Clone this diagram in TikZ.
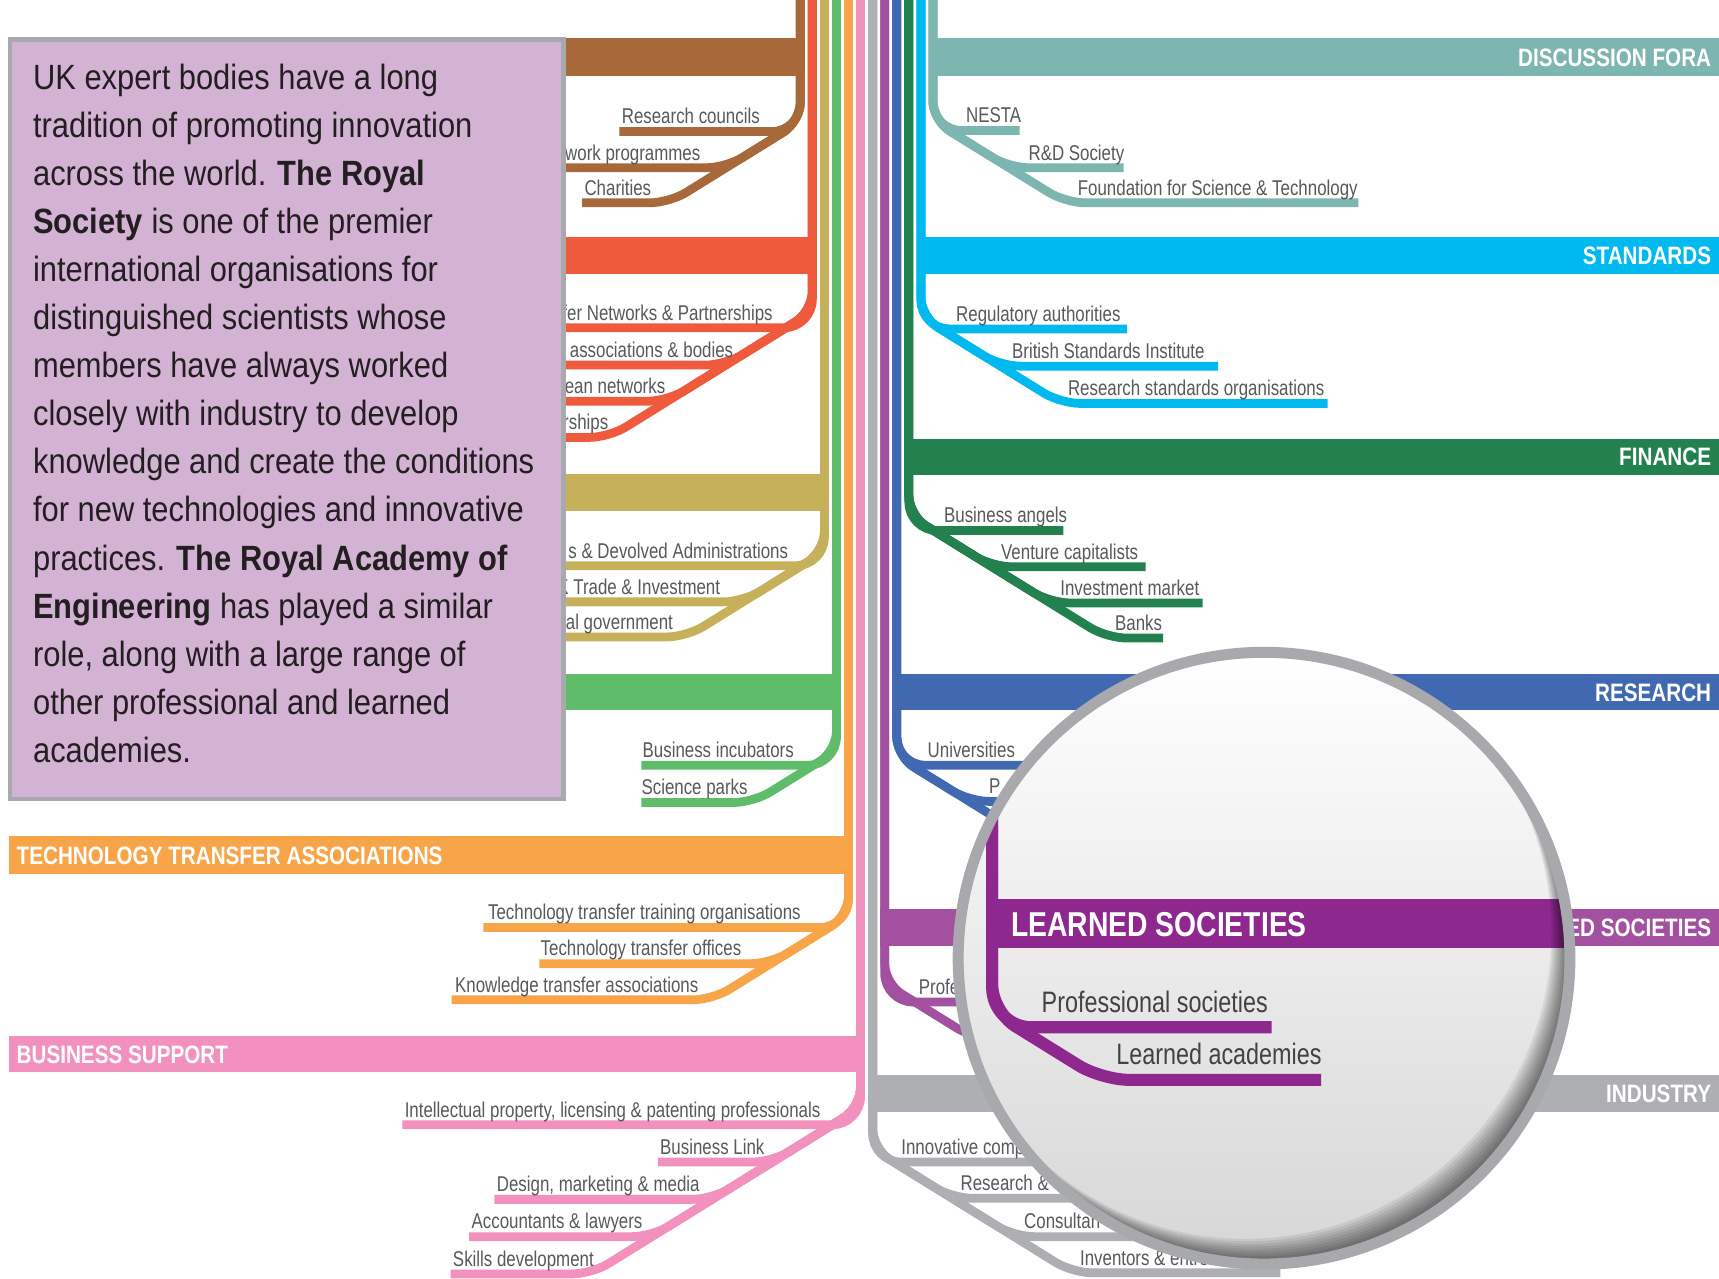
\documentclass[tikz,border=0pt]{standalone}
\usepackage{fontspec}
\setmainfont{Liberation Sans}
\newfontfamily\labfont{Liberation Sans}[FakeStretch=0.79]
\newfontfamily\boxfont{Liberation Sans}[FakeStretch=0.88]
\newfontfamily\headfont{Liberation Sans}[FakeStretch=0.82]

\definecolor{cBrown}{HTML}{A8693A}
\definecolor{cRed}{HTML}{EF5A3D}
\definecolor{cOlive}{HTML}{C7B05A}
\definecolor{cGreen}{HTML}{5EBC6A}
\definecolor{cOrange}{HTML}{F8A54A}
\definecolor{cPink}{HTML}{F291BD}
\definecolor{cGray}{HTML}{ADAFB2}
\definecolor{cPurple}{HTML}{A2509F}
\definecolor{cDeepPurple}{HTML}{8E288E}
\definecolor{cBlue}{HTML}{4069B2}
\definecolor{cDkGreen}{HTML}{23804F}
\definecolor{cCyan}{HTML}{00B9EE}
\definecolor{cTeal}{HTML}{7DB5B1}
\definecolor{boxFill}{HTML}{D3B3D4}
\definecolor{rimGray}{HTML}{A7A9AC}
\definecolor{labGray}{HTML}{58595B}
\definecolor{inkDark}{HTML}{231F20}

\tikzset{
  trunk/.style={line width=8pt},
  bigtrunk/.style={line width=11pt, cDeepPurple},
  lab/.style={font=\labfont\fontsize{19.5}{22}\selectfont, text=labGray, inner sep=0pt,
    anchor=west, text height=14pt, text depth=4pt, yshift=-2pt},
  biglab/.style={font=\labfont\fontsize{27}{30}\selectfont, text=inkDark!85, inner sep=0pt,
    anchor=west, text height=19.5pt, text depth=5.6pt},
  bandlab/.style={font=\headfont\bfseries\fontsize{23}{24}\selectfont, text=white,
    inner sep=0pt, text height=16.5pt, text depth=0pt},
  blurb/.style={anchor=north west, inner sep=0pt, align=left,
    font=\boxfont\fontsize{32}{43.86}\selectfont, text=inkDark},
}

\begin{document}
\begin{tikzpicture}[x=1pt, y=-1pt]
\useasboundingbox (0,0) rectangle (1568,1166);
\fill[white] (0,0) rectangle (1568,1166);

% right-hand lines
% discussion fora
\fill[cTeal] (847,35) rectangle (1568,69);
\node[bandlab, anchor=east] (fora) at (1561,52) {DISCUSSION FORA};
\draw[trunk, cTeal, rounded corners=26] (851,0) -- (851,119) -- (930,119);
\foreach \y/\e in {153/1025, 185/1239}
  \draw[trunk, cTeal, rounded corners=18] (851,0) -- (851,110) -- ({851+(\y-110)/0.62},\y) -- (\e,\y);
\node[lab] (nesta) at (881,105) {NESTA};
\node[lab] (rdsoc) at (938,139) {R\&D Society};
\node[lab] (fst) at (983,171) {Foundation for Science \& Technology};

% standards
\fill[cCyan] (836,216) rectangle (1568,250);
\node[bandlab, anchor=east] (stand) at (1561,233) {STANDARDS};
\draw[trunk, cCyan, rounded corners=26] (840,0) -- (840,300) -- (1028,300);
\foreach \y/\e in {334/1111, 368/1211}
  \draw[trunk, cCyan, rounded corners=18] (840,0) -- (840,289) -- ({840+(\y-289)/0.62},\y) -- (\e,\y);
\node[lab] (regauth) at (872,286) {Regulatory authorities};
\node[lab] (bsi) at (923,320) {British Standards Institute};
\node[lab] (rso) at (974,354) {Research standards organisations};

% finance
\fill[cDkGreen] (825,400) rectangle (1568,433);
\node[bandlab, anchor=east] (fin) at (1561,416.5) {FINANCE};
\draw[trunk, cDkGreen, rounded corners=26] (829,0) -- (829,484) -- (970,484);
\foreach \y/\e in {517/1045, 550/1097, 582/1061}
  \draw[trunk, cDkGreen, rounded corners=18] (829,0) -- (829,470) -- ({829+(\y-470)/0.62},\y) -- (\e,\y);
\node[lab] (angels) at (861,470) {Business angels};
\node[lab] (venture) at (913,503) {Venture capitalists};
\node[lab] (invest) at (967,536) {Investment market};
\node[lab] (banks) at (1017,568) {Banks};

% research
\fill[cBlue] (814,615) rectangle (1568,648);
\node[bandlab, anchor=east] (res) at (1561,631.5) {RESEARCH};
\draw[trunk, cBlue, rounded corners=26] (818,0) -- (818,698) -- (1000,698);
\foreach \y/\e in {731/1000, 764/1000}
  \draw[trunk, cBlue, rounded corners=18] (818,0) -- (818,690) -- ({818+(\y-690)/0.62},\y) -- (\e,\y);
\node[lab] (unis) at (846,684) {Universities};
\node[lab] (pub) at (902,717) {P};

% learned societies
\fill[cPurple] (803,829) rectangle (1568,863);
\node[bandlab, anchor=east] (learned) at (1561,846) {LEARNED SOCIETIES};
\draw[trunk, cPurple, rounded corners=26] (807,0) -- (807,914) -- (1000,914);
\draw[trunk, cPurple, rounded corners=18] (807,0) -- (807,897) -- ({807+50/0.62},947) -- (1000,947);
\node[lab] (prof) at (838,900) {Profe};

% industry
\fill[cGray] (792,981) rectangle (1568,1014);
\node[bandlab, anchor=east] (ind) at (1561,997.5) {INDUSTRY};
\draw[trunk, cGray, rounded corners=26] (796,0) -- (796,1060) -- (1100,1060);
\foreach \y/\e in {1093/1100, 1128/1100, 1161/1168}
  \draw[trunk, cGray, rounded corners=18] (796,0) -- (796,1048) -- ({796+(\y-1048)/0.62},\y) -- (\e,\y);
\node[lab] (innov) at (822,1046) {Innovative comp};
\node[lab] (rnd) at (876,1079) {Research \&};
\node[lab] (consult) at (934,1114) {Consultan};
\node[lab] (invent) at (985,1147) {Inventors \& entre};

% left-hand lines
% funders
\fill[cBrown] (8,35) rectangle (734,69);
\draw[trunk, cBrown, rounded corners=26] (730,0) -- (730,120) -- (565,120);
\foreach \y/\e in {153/500, 185/531}
  \draw[trunk, cBrown, rounded corners=18] (730,0) -- (730,111) -- ({730-(\y-111)/0.62},\y) -- (\e,\y);
\node[lab] (rc) at (567,106) {Research councils};
\node[lab, anchor=east] (fp) at (639,139) {work programmes};
\node[lab] (char) at (533,171) {Charities};

% networks
\fill[cRed] (8,216) rectangle (745,250);
\draw[trunk, cRed, rounded corners=26] (741,0) -- (741,299) -- (500,299);
\foreach \y/\e in {333/500, 366/500, 399/500}
  \draw[trunk, cRed, rounded corners=18] (741,0) -- (741,284) -- ({741-(\y-284)/0.62},\y) -- (\e,\y);
\node[lab, anchor=east] (ktn) at (705,285) {fer Networks \& Partnerships};
\node[lab, anchor=east] (trade) at (669,319) {associations \& bodies};
\node[lab, anchor=east] (euro) at (607,352) {ean networks};
\node[lab, anchor=east] (ktp) at (555,385) {rships};

% government
\fill[cOlive] (8,432) rectangle (756,466);
\draw[trunk, cOlive, rounded corners=26] (752,0) -- (752,516) -- (500,516);
\foreach \y/\e in {549/500, 581/500}
  \draw[trunk, cOlive, rounded corners=18] (752,0) -- (752,503) -- ({752-(\y-503)/0.62},\y) -- (\e,\y);
\node[lab, anchor=east] (rda) at (719,502) {s \& Devolved Administrations};
\node[lab, anchor=east] (ukti) at (657,535) {K Trade \& Investment};
\node[lab, anchor=east] (gov) at (614,567) {al government};

% incubation
\fill[cGreen] (8,615) rectangle (767,648);
\draw[trunk, cGreen, rounded corners=26] (763,0) -- (763,698) -- (585,698);
\draw[trunk, cGreen, rounded corners=18] (763,0) -- (763,685) -- ({763-47/0.62},732) -- (585,732);
\node[lab] (incub) at (586,684) {Business incubators};
\node[lab] (parks) at (585,718) {Science parks};

% technology transfer
\fill[cOrange] (8,763) rectangle (778,797);
\node[bandlab, anchor=west] (tta) at (15,780) {TECHNOLOGY TRANSFER ASSOCIATIONS};
\draw[trunk, cOrange, rounded corners=26] (774,0) -- (774,846) -- (441,846);
\foreach \y/\e in {879/492, 912/412}
  \draw[trunk, cOrange, rounded corners=18] (774,0) -- (774,835) -- ({774-(\y-835)/0.62},\y) -- (\e,\y);
\node[lab] (ttto) at (445,832) {Technology transfer training organisations};
\node[lab] (tto) at (493,865) {Technology transfer offices};
\node[lab] (kta) at (415,898) {Knowledge transfer associations};

% business support
\fill[cPink] (8,945) rectangle (789,978);
\node[bandlab, anchor=west] (bsup) at (15,961.5) {BUSINESS SUPPORT};
\draw[trunk, cPink, rounded corners=26] (785,0) -- (785,1026) -- (367,1026);
\foreach \y/\e in {1060/600, 1094/451, 1128/428, 1162/411}
  \draw[trunk, cPink, rounded corners=18] (785,0) -- (785,1010) -- ({785-(\y-1010)/0.62},\y) -- (\e,\y);
\node[lab] (ip) at (369,1012) {Intellectual property, licensing \& patenting professionals};
\node[lab] (blink) at (602,1046) {Business Link};
\node[lab] (design) at (453,1080) {Design, marketing \& media};
\node[lab] (acct) at (430,1114) {Accountants \& lawyers};
\node[lab] (skills) at (413,1148) {Skills development};

% text box
\draw[line width=4pt, draw=rimGray, fill=boxFill] (9,36) rectangle (514,729);
\node[blurb] (intro) at (30,58) {UK expert bodies have a long\\
tradition of promoting innovation\\
across the world. \textbf{The Royal}\\
\textbf{Society} is one of the premier\\
international organisations for\\
distinguished scientists whose\\
members have always worked\\
closely with industry to develop\\
knowledge and create the conditions\\
for new technologies and innovative\\
practices. \textbf{The Royal Academy of}\\
\textbf{Engineering} has played a similar\\
role, along with a large range of\\
other professional and learned\\
academies.};

% magnifier
\coordinate (lens) at (1153,874);
\begin{scope}
  \clip (lens) circle (279);
  \fill[top color=white, bottom color=black!16] (lens) circle (279);
  \fill[cDeepPurple] (899.5,820) rectangle (1450,865);
  \node[bandlab, anchor=west, font=\headfont\bfseries\fontsize{31.5}{33}\selectfont,
    text height=22.5pt] (lsbig) at (922,843) {LEARNED SOCIETIES};
  \draw[bigtrunk, rounded corners=36] (905,600) -- (905,937) -- (1160,937);
  \draw[bigtrunk, rounded corners=25] (905,600) -- (905,923) -- ({905+62/0.62},985) -- (1205,985);
  \node[biglab] (profbig) at (950,917) {Professional societies};
  \node[biglab] (acadbig) at (1018,964) {Learned academies};
  \foreach \k in {1,...,10}
    \fill[black, opacity=0.075, even odd rule] (lens) circle (279)
      ([shift={(-1.7*\k,-2.3*\k)}]lens) circle (279);
\end{scope}
\draw[rimGray, line width=10pt] (lens) circle (279);
\end{tikzpicture}
\end{document}
